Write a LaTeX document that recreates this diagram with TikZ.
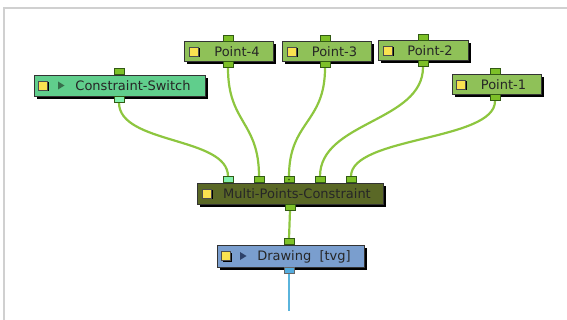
\documentclass[tikz,border=0pt]{standalone}
\usepackage{fontspec}
\setmainfont{DejaVu Sans}
\usetikzlibrary{shadows}
\pgfdeclarelayer{bg}
\pgfsetlayers{bg,main}
\definecolor{framegray}{RGB}{208,208,208}
\definecolor{swfill}{RGB}{96,206,140}
\definecolor{swport}{RGB}{130,240,172}
\definecolor{ptfill}{RGB}{143,193,88}
\definecolor{portgreen}{RGB}{125,192,40}
\definecolor{portedge}{RGB}{50,90,20}
\definecolor{mpfill}{RGB}{90,104,38}
\definecolor{drfill}{RGB}{122,158,206}
\definecolor{drport}{RGB}{84,172,222}
\definecolor{wiregreen}{RGB}{141,198,63}
\definecolor{wireblue}{RGB}{90,180,220}
\definecolor{yel}{RGB}{250,226,80}
\definecolor{trisw}{RGB}{55,110,75}
\definecolor{tridr}{RGB}{45,65,105}
\tikzset{
  nodebox/.style={draw=black!80, line width=0.8pt, inner sep=0pt,
    drop shadow={shadow xshift=3pt, shadow yshift=-3pt, opacity=1, fill=black}},
  port/.style={draw=portedge, fill=portgreen, line width=0.6pt, inner sep=0pt,
    minimum width=10pt, minimum height=6pt},
  yelbox/.style={draw=black!70, fill=yel, line width=0.5pt, inner sep=0pt,
    minimum width=9pt, minimum height=9pt,
    drop shadow={shadow xshift=1.5pt, shadow yshift=-1.5pt, opacity=1, fill=black}},
  lbl/.style={inner sep=0pt, font=\fontsize{13}{15}\selectfont, text=black!85},
  wire/.style={draw=wiregreen, line width=2.2pt},
}
\begin{document}
\begin{tikzpicture}[x=1pt,y=-1pt]
\useasboundingbox (0,0) rectangle (567,320);
\draw[framegray, line width=2pt] (4,321) -- (4,8) -- (568,8);

% boxes
\node[nodebox, fill=swfill, minimum width=171pt, minimum height=21pt] (sw) at (119.5,85.5) {};
\node[nodebox, fill=ptfill, minimum width=89pt, minimum height=20pt] (p4) at (228.5,51.5) {};
\node[nodebox, fill=ptfill, minimum width=89pt, minimum height=20pt] (p3) at (326.5,51.5) {};
\node[nodebox, fill=ptfill, minimum width=90pt, minimum height=20pt] (p2) at (423,50.5) {};
\node[nodebox, fill=ptfill, minimum width=89pt, minimum height=20pt] (p1) at (496.5,84.5) {};
\node[nodebox, fill=mpfill, minimum width=186pt, minimum height=21pt] (mp) at (290,193.5) {};
\node[nodebox, fill=drfill, minimum width=147pt, minimum height=22pt] (dr) at (290.5,256) {};

% yellow squares
\node[yelbox] (swy) at (42.5,85.5) {};
\node[yelbox] (p4y) at (193.5,51.5) {};
\node[yelbox] (p3y) at (291.5,51.5) {};
\node[yelbox] (p2y) at (387.5,50.5) {};
\node[yelbox] (p1y) at (460.5,84.5) {};
\node[yelbox] (mpy) at (206.5,193.5) {};
\node[yelbox] (dry) at (226,256) {};

% play triangles
\fill[trisw] (58,81.5) -- (64.5,85.5) -- (58,89.5) -- cycle;
\fill[tridr] (240,252) -- (246.5,256) -- (240,260) -- cycle;

% labels
\node[lbl] (swt) at (133,86) {Constraint-Switch};
\node[lbl] (p4t) at (237,52) {Point-4};
\node[lbl] (p3t) at (334.5,52) {Point-3};
\node[lbl] (p2t) at (430,51) {Point-2};
\node[lbl] (p1t) at (503.5,85) {Point-1};
\node[lbl] (mpt) at (297,194) {Multi-Points-Constraint};
\node[lbl] (drt) at (304,256.5) {Drawing\ \ [tvg]};

% ports
\node[port, anchor=south] (swin) at (119,75) {};
\node[port, anchor=north, fill=swport] (swout) at (119,96) {};
\node[port, anchor=south] (p4in) at (228,41.5) {};
\node[port, anchor=north] (p4out) at (228,61.5) {};
\node[port, anchor=south] (p3in) at (325,41.5) {};
\node[port, anchor=north] (p3out) at (325,61.5) {};
\node[port, anchor=south] (p2in) at (423,40.5) {};
\node[port, anchor=north] (p2out) at (423,60.5) {};
\node[port, anchor=south] (p1in) at (495,74.5) {};
\node[port, anchor=north] (p1out) at (495,94.5) {};
\node[port, anchor=south, fill=swport] (mpin1) at (228,183) {};
\node[port, anchor=south] (mpin2) at (259,183) {};
\node[port, anchor=south] (mpin3) at (289,183) {};
\node[port, anchor=south] (mpin4) at (320,183) {};
\node[port, anchor=south] (mpin5) at (351,183) {};
\node[port, anchor=north] (mpout) at (290,204) {};
\node[port, anchor=south] (drin) at (289,245) {};
\node[port, anchor=north, fill=drport, draw=black!60] (drout) at (289,267) {};
\fill[portedge] (mpin3.center) circle (1pt);
\coordinate (end) at (289,311);

% wires
\begin{pgfonlayer}{bg}
\draw[wire] (swout.south) .. controls +(0,42) and +(0,-40) .. (mpin1.north);
\draw[wire] (p4out.south) .. controls +(0,55) and +(0,-55) .. (mpin2.north);
\draw[wire] (p3out.south) .. controls +(0,55) and +(0,-55) .. (mpin3.north);
\draw[wire] (p2out.south) .. controls +(0,55) and +(0,-55) .. (mpin4.north);
\draw[wire] (p1out.south) .. controls +(0,40) and +(0,-40) .. (mpin5.north);
\draw[wire] (mpout.south) -- (drin.north);
\draw[draw=wireblue, line width=2.2pt] (drout.south) -- (end);
\end{pgfonlayer}
\end{tikzpicture}
\end{document}
